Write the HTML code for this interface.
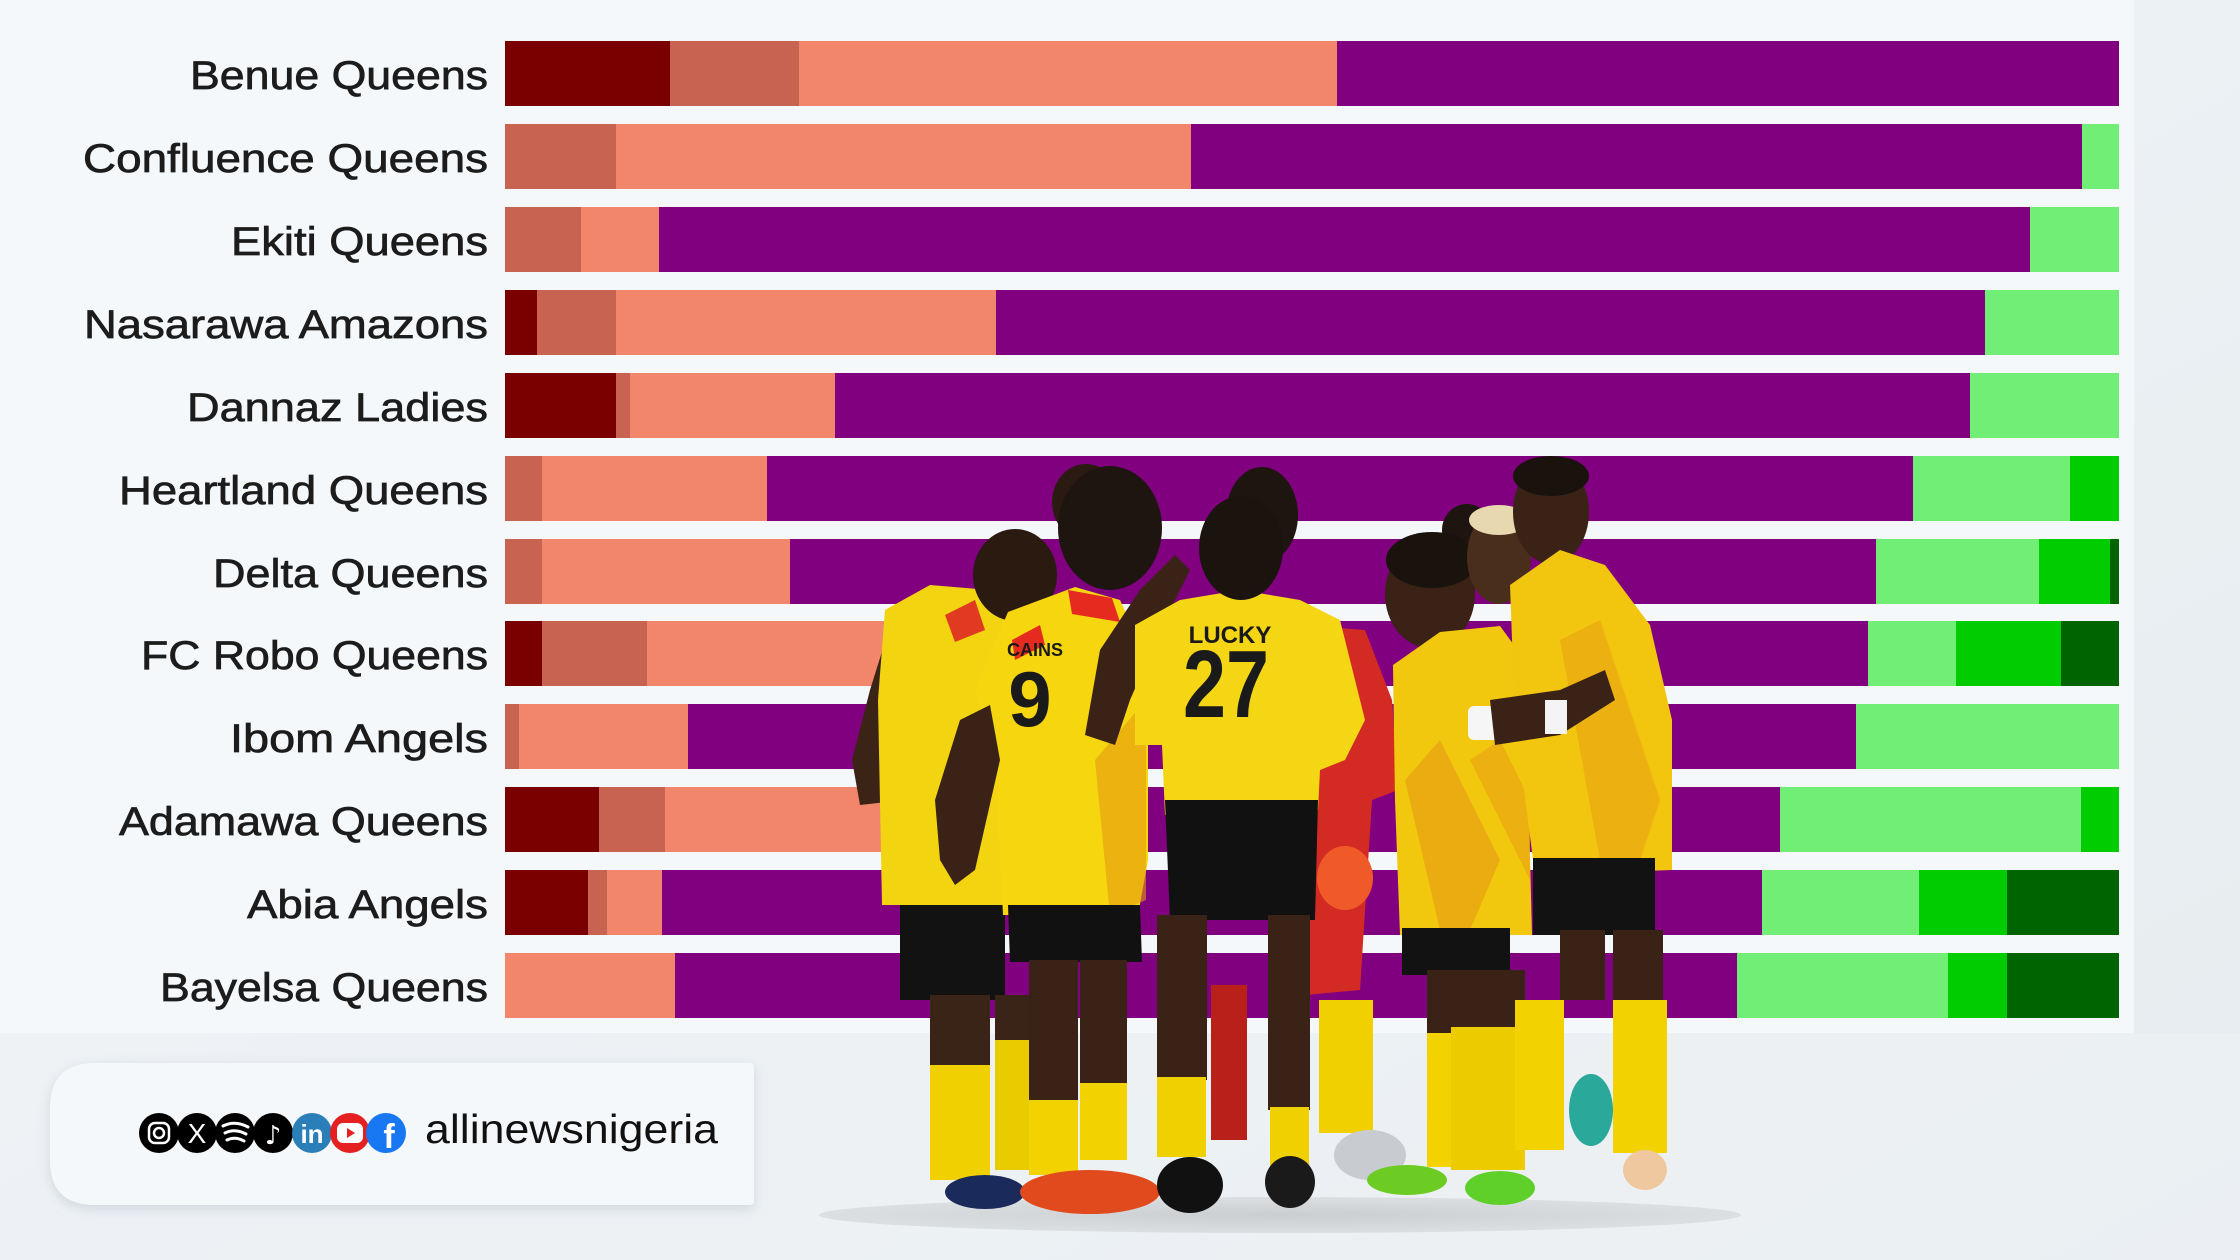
<!DOCTYPE html>
<html><head><meta charset="utf-8"><style>
html,body{margin:0;padding:0;background:#e9eff2;}
svg{display:block;}
.lb{font-family:"Liberation Sans",sans-serif;font-size:40px;fill:#1c1c1c;stroke:#1c1c1c;stroke-width:0.7;text-anchor:end;}
</style></head><body>
<svg width="2240" height="1260" viewBox="0 0 2240 1260" xmlns="http://www.w3.org/2000/svg">
<defs>
<linearGradient id="bg" x1="0" y1="0" x2="1" y2="1"><stop offset="0" stop-color="#f2f6f9"/><stop offset="1" stop-color="#e6ecef"/></linearGradient>
<radialGradient id="sh" cx="0.5" cy="0.5" r="0.5"><stop offset="0" stop-color="#cbced1"/><stop offset="1" stop-color="#dcdfe2"/></radialGradient>
<filter id="ds" x="-10%" y="-20%" width="120%" height="150%"><feDropShadow dx="0" dy="4" stdDeviation="6" flood-color="#9aa4ad" flood-opacity="0.35"/></filter>
</defs>
<rect width="2240" height="1260" fill="url(#bg)"/>
<rect x="0" y="1033" width="2240" height="227" fill="#eef2f5" opacity="0.6"/>
<rect x="0" y="0" width="2134" height="1033" fill="#f4f8fb"/>

<!-- labels -->
<text class="lb" x="488" y="89" textLength="298" lengthAdjust="spacingAndGlyphs">Benue Queens</text>
<text class="lb" x="488" y="172" textLength="405" lengthAdjust="spacingAndGlyphs">Confluence Queens</text>
<text class="lb" x="488" y="255" textLength="257" lengthAdjust="spacingAndGlyphs">Ekiti Queens</text>
<text class="lb" x="488" y="338" textLength="404" lengthAdjust="spacingAndGlyphs">Nasarawa Amazons</text>
<text class="lb" x="488" y="421" textLength="301" lengthAdjust="spacingAndGlyphs">Dannaz Ladies</text>
<text class="lb" x="488" y="504" textLength="369" lengthAdjust="spacingAndGlyphs">Heartland Queens</text>
<text class="lb" x="488" y="587" textLength="275" lengthAdjust="spacingAndGlyphs">Delta Queens</text>
<text class="lb" x="488" y="669" textLength="347" lengthAdjust="spacingAndGlyphs">FC Robo Queens</text>
<text class="lb" x="488" y="752" textLength="258" lengthAdjust="spacingAndGlyphs">Ibom Angels</text>
<text class="lb" x="488" y="835" textLength="369" lengthAdjust="spacingAndGlyphs">Adamawa Queens</text>
<text class="lb" x="488" y="918" textLength="241" lengthAdjust="spacingAndGlyphs">Abia Angels</text>
<text class="lb" x="488" y="1001" textLength="328" lengthAdjust="spacingAndGlyphs">Bayelsa Queens</text>

<!-- bars -->
<g shape-rendering="crispEdges">
<rect x="505" y="41" width="165" height="65" fill="#7a0000"/><rect x="670" y="41" width="129" height="65" fill="#c86352"/><rect x="799" y="41" width="538" height="65" fill="#f1866b"/><rect x="1337" y="41" width="782" height="65" fill="#800080"/>
<rect x="505" y="124" width="111" height="65" fill="#c86352"/><rect x="616" y="124" width="575" height="65" fill="#f1866b"/><rect x="1191" y="124" width="891" height="65" fill="#800080"/><rect x="2082" y="124" width="37" height="65" fill="#70ee76"/>
<rect x="505" y="207" width="76" height="65" fill="#c86352"/><rect x="581" y="207" width="78" height="65" fill="#f1866b"/><rect x="659" y="207" width="1371" height="65" fill="#800080"/><rect x="2030" y="207" width="89" height="65" fill="#70ee76"/>
<rect x="505" y="290" width="32" height="65" fill="#7a0000"/><rect x="537" y="290" width="79" height="65" fill="#c86352"/><rect x="616" y="290" width="380" height="65" fill="#f1866b"/><rect x="996" y="290" width="989" height="65" fill="#800080"/><rect x="1985" y="290" width="134" height="65" fill="#70ee76"/>
<rect x="505" y="373" width="111" height="65" fill="#7a0000"/><rect x="616" y="373" width="14" height="65" fill="#c86352"/><rect x="630" y="373" width="205" height="65" fill="#f1866b"/><rect x="835" y="373" width="1135" height="65" fill="#800080"/><rect x="1970" y="373" width="149" height="65" fill="#70ee76"/>
<rect x="505" y="456" width="37" height="65" fill="#c86352"/><rect x="542" y="456" width="225" height="65" fill="#f1866b"/><rect x="767" y="456" width="1146" height="65" fill="#800080"/><rect x="1913" y="456" width="157" height="65" fill="#70ee76"/><rect x="2070" y="456" width="49" height="65" fill="#00cc00"/>
<rect x="505" y="539" width="37" height="65" fill="#c86352"/><rect x="542" y="539" width="248" height="65" fill="#f1866b"/><rect x="790" y="539" width="1086" height="65" fill="#800080"/><rect x="1876" y="539" width="163" height="65" fill="#70ee76"/><rect x="2039" y="539" width="71" height="65" fill="#00cc00"/><rect x="2110" y="539" width="9" height="65" fill="#006400"/>
<rect x="505" y="621" width="37" height="65" fill="#7a0000"/><rect x="542" y="621" width="105" height="65" fill="#c86352"/><rect x="647" y="621" width="353" height="65" fill="#f1866b"/><rect x="1000" y="621" width="868" height="65" fill="#800080"/><rect x="1868" y="621" width="88" height="65" fill="#70ee76"/><rect x="1956" y="621" width="105" height="65" fill="#00cc00"/><rect x="2061" y="621" width="58" height="65" fill="#006400"/>
<rect x="505" y="704" width="14" height="65" fill="#c86352"/><rect x="519" y="704" width="169" height="65" fill="#f1866b"/><rect x="688" y="704" width="1168" height="65" fill="#800080"/><rect x="1856" y="704" width="263" height="65" fill="#70ee76"/>
<rect x="505" y="787" width="94" height="65" fill="#7a0000"/><rect x="599" y="787" width="66" height="65" fill="#c86352"/><rect x="665" y="787" width="275" height="65" fill="#f1866b"/><rect x="940" y="787" width="840" height="65" fill="#800080"/><rect x="1780" y="787" width="301" height="65" fill="#70ee76"/><rect x="2081" y="787" width="38" height="65" fill="#00cc00"/>
<rect x="505" y="870" width="83" height="65" fill="#7a0000"/><rect x="588" y="870" width="19" height="65" fill="#c86352"/><rect x="607" y="870" width="55" height="65" fill="#f1866b"/><rect x="662" y="870" width="1100" height="65" fill="#800080"/><rect x="1762" y="870" width="157" height="65" fill="#70ee76"/><rect x="1919" y="870" width="88" height="65" fill="#00cc00"/><rect x="2007" y="870" width="112" height="65" fill="#006400"/>
<rect x="505" y="953" width="170" height="65" fill="#f1866b"/><rect x="675" y="953" width="1062" height="65" fill="#800080"/><rect x="1737" y="953" width="211" height="65" fill="#70ee76"/><rect x="1948" y="953" width="59" height="65" fill="#00cc00"/><rect x="2007" y="953" width="112" height="65" fill="#006400"/>
</g>

<!-- photo approximation -->
<ellipse cx="1280" cy="1215" rx="461" ry="18" fill="url(#sh)"/>
<ellipse cx="1086" cy="502" rx="34" ry="38" fill="#2a1a12"/>
<ellipse cx="1262" cy="515" rx="36" ry="48" fill="#1e1410"/>
<ellipse cx="1467" cy="530" rx="25" ry="26" fill="#1e1410"/>
<!-- goalkeeper -->
<polygon points="1300,625 1365,630 1392,700 1398,790 1372,800 1360,990 1305,995" fill="#d42a24"/>
<rect x="1211" y="985" width="36" height="155" fill="#b82019"/>
<!-- player 1 -->
<polygon points="852,760 870,690 895,610 925,600 930,700 905,800 860,805" fill="#3b2416"/>
<polygon points="885,610 930,585 990,590 1010,620 1005,905 882,905 878,700" fill="#f3d410"/>
<polygon points="945,615 975,600 985,630 955,642" fill="#e03a20"/>
<ellipse cx="1015" cy="575" rx="42" ry="46" fill="#2b1a10"/>
<rect x="900" y="905" width="105" height="95" fill="#121212"/>
<rect x="930" y="995" width="60" height="75" fill="#3a2418"/>
<rect x="995" y="995" width="39" height="50" fill="#3a2418"/>
<rect x="930" y="1065" width="60" height="115" fill="#f0d000"/>
<rect x="995" y="1040" width="39" height="130" fill="#e8cc00"/>
<!-- player 2 -->
<ellipse cx="1110" cy="528" rx="52" ry="62" fill="#1e1410"/>
<polygon points="975,690 1008,612 1075,587 1120,600 1148,660 1148,860 1138,915 1003,915 995,760" fill="#f5d60f"/>
<polygon points="1068,590 1112,598 1120,622 1072,614" fill="#e52a20"/>
<polygon points="1012,640 1040,625 1045,645 1015,660" fill="#e52a20"/>
<polygon points="1095,760 1146,700 1146,900 1110,915" fill="#e49a10" opacity="0.6"/>
<polygon points="960,720 990,705 1000,760 975,870 955,885 940,860 935,800" fill="#3a2216"/>
<text x="1030" y="726" font-family="Liberation Sans,sans-serif" font-weight="bold" font-size="78" fill="#1a1a1a" text-anchor="middle">9</text>
<text x="1035" y="656" font-family="Liberation Sans,sans-serif" font-weight="bold" font-size="18" fill="#1a1a1a" text-anchor="middle">CAINS</text>
<polygon points="1008,905 1140,905 1142,962 1010,962" fill="#111"/>
<rect x="1029" y="960" width="49" height="145" fill="#3a2216"/>
<rect x="1080" y="960" width="47" height="125" fill="#3a2216"/>
<rect x="1029" y="1100" width="49" height="75" fill="#f2d200"/>
<rect x="1080" y="1083" width="47" height="77" fill="#f2d200"/>
<ellipse cx="985" cy="1192" rx="40" ry="17" fill="#1a2a5a"/>
<ellipse cx="1090" cy="1192" rx="70" ry="22" fill="#e04a1c"/>
<!-- player 3 -->
<polygon points="1085,735 1100,650 1140,590 1175,555 1190,570 1165,620 1130,700 1115,745" fill="#3a2216"/>
<polygon points="1135,625 1180,600 1240,590 1300,600 1340,620 1365,720 1345,760 1320,770 1318,810 1165,815 1162,745 1135,745" fill="#f4d614"/>
<ellipse cx="1241" cy="548" rx="42" ry="52" fill="#1b130e"/>
<text x="1230" y="643" font-family="Liberation Sans,sans-serif" font-weight="bold" font-size="24" fill="#1a1a1a" text-anchor="middle">LUCKY</text>
<text x="1226" y="717" font-family="Liberation Sans,sans-serif" font-weight="bold" font-size="96" fill="#1a1a1a" text-anchor="middle" textLength="86" lengthAdjust="spacingAndGlyphs">27</text>
<polygon points="1165,800 1318,800 1315,920 1170,920" fill="#111"/>
<rect x="1157" y="915" width="50" height="165" fill="#3a2216"/>
<rect x="1268" y="915" width="42" height="195" fill="#3a2216"/>
<rect x="1157" y="1077" width="49" height="80" fill="#f1d000"/>
<rect x="1270" y="1107" width="39" height="60" fill="#f1d000"/>
<rect x="1319" y="1000" width="54" height="133" fill="#f0d000"/>
<ellipse cx="1190" cy="1185" rx="33" ry="28" fill="#111"/>
<ellipse cx="1290" cy="1182" rx="25" ry="26" fill="#1a1a1a"/>
<ellipse cx="1370" cy="1155" rx="36" ry="25" fill="#c8ccd0"/>
<ellipse cx="1345" cy="878" rx="28" ry="32" fill="#f05a28"/>
<!-- player 5 captain -->
<ellipse cx="1430" cy="594" rx="45" ry="54" fill="#3a2216"/>
<ellipse cx="1432" cy="560" rx="46" ry="28" fill="#1a120c"/>
<polygon points="1393,665 1440,632 1500,626 1525,660 1532,935 1400,935 1395,800" fill="#f2c80e"/>
<polygon points="1405,780 1440,740 1500,860 1470,930 1440,930" fill="#e59a12" opacity="0.6"/>
<polygon points="1470,760 1500,740 1530,800 1530,880" fill="#e59a12" opacity="0.5"/>
<rect x="1468" y="706" width="52" height="34" rx="6" fill="#f6f6f6"/>
<rect x="1402" y="928" width="108" height="47" fill="#121212"/>
<rect x="1427" y="970" width="49" height="65" fill="#3a2216"/>
<rect x="1476" y="970" width="49" height="60" fill="#3a2216"/>
<rect x="1427" y="1033" width="49" height="134" fill="#f2d200"/>
<rect x="1451" y="1027" width="74" height="143" fill="#eccc00"/>
<ellipse cx="1407" cy="1180" rx="40" ry="15" fill="#6ccc24"/>
<ellipse cx="1500" cy="1188" rx="35" ry="17" fill="#5fd02a"/>
<!-- player 6 -->
<ellipse cx="1499" cy="557" rx="32" ry="47" fill="#4a2e1c"/>
<ellipse cx="1499" cy="520" rx="30" ry="15" fill="#e8d8b0"/>
<ellipse cx="1551" cy="512" rx="38" ry="52" fill="#3a2216"/>
<ellipse cx="1551" cy="476" rx="38" ry="20" fill="#1a120c"/>
<polygon points="1510,585 1560,550 1605,565 1650,625 1672,720 1672,870 1535,875 1515,720" fill="#f2c60e"/>
<polygon points="1560,640 1600,620 1660,800 1640,860 1600,860" fill="#e59a12" opacity="0.5"/>
<polygon points="1490,700 1560,690 1605,670 1615,700 1560,735 1495,745" fill="#3a2216"/>
<rect x="1545" y="700" width="22" height="34" fill="#f4f4f4"/>
<rect x="1533" y="858" width="122" height="77" fill="#121212"/>
<rect x="1560" y="930" width="45" height="70" fill="#3a2216"/>
<rect x="1613" y="930" width="50" height="70" fill="#3a2216"/>
<rect x="1515" y="1000" width="49" height="150" fill="#f2d200"/>
<rect x="1613" y="1000" width="54" height="153" fill="#f2d200"/>
<ellipse cx="1591" cy="1110" rx="22" ry="36" fill="#2aa89a"/>
<ellipse cx="1645" cy="1170" rx="22" ry="20" fill="#f0c8a0"/>

<!-- footer box -->
<path d="M95,1063 L750,1063 Q754,1063 754,1067 L754,1201 Q754,1205 750,1205 L95,1205 Q50,1205 50,1160 L50,1108 Q50,1063 95,1063 Z" fill="#f5f8fb" filter="url(#ds)"/>
<circle cx="159" cy="1133" r="20" fill="#000"/>
<rect x="149" y="1123" width="20" height="20" rx="6" fill="none" stroke="#fff" stroke-width="2.5"/>
<circle cx="159" cy="1133" r="5" fill="none" stroke="#fff" stroke-width="2.5"/>
<circle cx="197" cy="1133" r="20" fill="#000"/>
<text x="197" y="1143" font-family="Liberation Sans,sans-serif" font-size="28" fill="#fff" text-anchor="middle">X</text>
<circle cx="235" cy="1133" r="20" fill="#000"/>
<path d="M223,1126 Q235,1120 248,1127 M225,1133 Q235,1128 246,1134 M227,1140 Q235,1136 244,1141" fill="none" stroke="#fff" stroke-width="3" stroke-linecap="round"/>
<circle cx="273" cy="1133" r="20" fill="#000"/>
<text x="273" y="1144" font-family="DejaVu Sans,sans-serif" font-size="26" fill="#fff" text-anchor="middle">♪</text>
<circle cx="312" cy="1133" r="20" fill="#2a7fb8"/>
<text x="312" y="1143" font-family="Liberation Sans,sans-serif" font-weight="bold" font-size="26" fill="#fff" text-anchor="middle">in</text>
<circle cx="350" cy="1133" r="20" fill="#e52020"/>
<rect x="337" y="1123" width="26" height="20" rx="6" fill="#fff"/>
<polygon points="347,1128 355,1133 347,1138" fill="#e52020"/>
<circle cx="386" cy="1133" r="20" fill="#1877f2"/>
<text x="389" y="1148" font-family="Liberation Sans,sans-serif" font-weight="bold" font-size="34" fill="#fff" text-anchor="middle">f</text>
<text x="425" y="1143" font-family="Liberation Sans,sans-serif" font-size="41" fill="#111" textLength="293" lengthAdjust="spacingAndGlyphs">allinewsnigeria</text>
</svg>
</body></html>
